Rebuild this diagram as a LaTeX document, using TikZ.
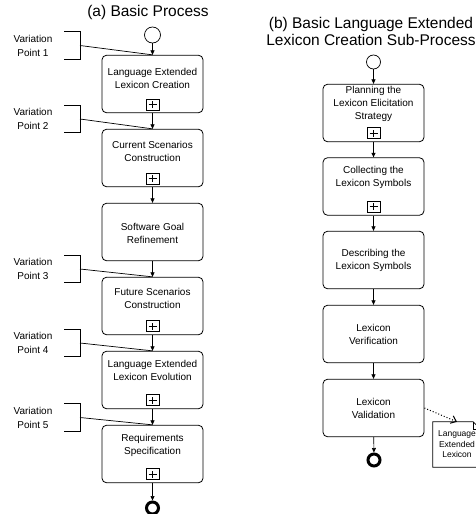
\documentclass[tikz,border=0pt]{standalone}
\usepackage{fontspec}
\setmainfont{Liberation Sans}
\usetikzlibrary{arrows.meta}
\begin{document}
\begin{tikzpicture}[x=1pt,y=-1pt,
  task/.style={draw, rounded corners=4.5pt, line width=0.8pt, minimum width=101pt, minimum height=57.5pt, inner sep=0pt},
  ttext/.style={align=center, font=\fontsize{10}{13}\selectfont, inner sep=0pt},
  vptext/.style={align=center, font=\fontsize{10}{14}\selectfont, inner sep=0pt},
  titletext/.style={align=center, font=\fontsize{15.5}{17}\selectfont, inner sep=0pt},
  plusbox/.style={draw, line width=0.8pt, minimum width=13pt, minimum height=11pt, inner sep=0pt,
    path picture={
      \draw[line width=0.9pt] ([xshift=-4pt]path picture bounding box.center) -- ([xshift=4pt]path picture bounding box.center);
      \draw[line width=0.9pt] ([yshift=-3.5pt]path picture bounding box.center) -- ([yshift=3.5pt]path picture bounding box.center);}},
  flow/.style={-{Triangle[length=4.5pt,width=4pt]}, line width=0.7pt},
  startev/.style={draw, circle, line width=0.7pt, inner sep=0pt},
  endev/.style={draw, circle, line width=3pt, minimum size=12pt, inner sep=0pt},
  bracket/.style={line width=0.7pt},
  annot/.style={line width=0.7pt},
  dataobj/.style={inner sep=0pt, minimum width=48pt, minimum height=45pt, align=center, font=\fontsize{8.5}{10.5}\selectfont},
]
\useasboundingbox (0,0) rectangle (476,514);
\clip (0,0) rectangle (476,514);

% ---------- (a) Basic Process ----------
\node[titletext] (ta) at (148,12) {(a) Basic Process};

\node[startev, minimum size=16pt] (sa) at (152.5,35) {};

\node[task] (A1) at (152.5,84) {};
\node[task] (A2) at (152.5,158) {};
\node[task] (A3) at (152.5,232) {};
\node[task] (A4) at (152.5,306) {};
\node[task] (A5) at (152.5,380) {};
\node[task] (A6) at (152.5,454) {};

\node[ttext] (A1t) at (152.5,78) {Language Extended\\Lexicon Creation};
\node[ttext] (A2t) at (152.5,151) {Current Scenarios\\Construction};
\node[ttext] (A3t) at (152.5,233) {Software Goal\\Refinement};
\node[ttext] (A4t) at (152.5,298.5) {Future Scenarios\\Construction};
\node[ttext] (A5t) at (152.5,370.5) {Language Extended\\Lexicon Evolution};
\node[ttext] (A6t) at (152.5,445.5) {Requirements\\Specification};

\node[plusbox] (A1p) at (152.5,104.5) {};
\node[plusbox] (A2p) at (152.5,178.5) {};
\node[plusbox] (A4p) at (152.5,326) {};
\node[plusbox] (A5p) at (152.5,400) {};
\node[plusbox] (A6p) at (152.5,474) {};

\node[endev] (ea) at (152.5,508) {};

\draw[flow] (sa) -- (A1);
\draw[flow] (A1) -- (A2);
\draw[flow] (A2) -- (A3);
\draw[flow] (A3) -- (A4);
\draw[flow] (A4) -- (A5);
\draw[flow] (A5) -- (A6);
\draw[flow] (A6) -- (ea);

% variation points
\foreach \i/\y/\t in {1/45.5/A1, 2/119/A2, 3/269/A4, 4/343/A5, 5/417.5/A6}{
  \node[vptext] (vp\i) at (33,\y) {Variation\\Point \i};
  \coordinate (vb\i) at (80,\y);
  \draw[bracket] (64,\y-13.75) -- (80,\y-13.75) -- (80,\y+13.75) -- (64,\y+13.75);
  \draw[annot] (vb\i) -- (\t.north);
}

% ---------- (b) Sub-process ----------
\node[titletext] (tb) at (371,31) {(b) Basic Language Extended\\Lexicon Creation Sub-Process};

\node[startev, minimum size=14pt] (sb) at (373.5,62) {};

\node[task] (B1) at (373.5,113) {};
\node[task] (B2) at (373.5,186.5) {};
\node[task] (B3) at (373.5,260) {};
\node[task] (B4) at (373.5,334) {};
\node[task] (B5) at (373.5,408) {};

\node[ttext] (B1t) at (373.5,104) {Planning the\\Lexicon Elicitation\\Strategy};
\node[ttext] (B2t) at (373.5,177.5) {Collecting the\\Lexicon Symbols};
\node[ttext] (B3t) at (373.5,260.5) {Describing the\\Lexicon Symbols};
\node[ttext] (B4t) at (373.5,334) {Lexicon\\Verification};
\node[ttext] (B5t) at (373.5,408.5) {Lexicon\\Validation};

\node[plusbox] (B1p) at (373.5,133) {};
\node[plusbox] (B2p) at (373.5,206.5) {};

\node[endev] (eb) at (374,460) {};

\draw[flow] (sb) -- (B1);
\draw[flow] (B1) -- (B2);
\draw[flow] (B2) -- (B3);
\draw[flow] (B3) -- (B4);
\draw[flow] (B4) -- (B5);
\draw[flow] (B5) -- (eb);

% data object
\node[dataobj] (data) at (457,444.5) {Language\\Extended\\Lexicon};
\draw[line width=0.8pt] (data.north west) -- ([xshift=-8pt]data.north east) -- ([yshift=-8pt]data.north east) -- (data.south east) -- (data.south west) -- cycle;
\draw[line width=0.8pt] ([xshift=-8pt]data.north east) -- ([xshift=-8pt,yshift=-8pt]data.north east) -- ([yshift=-8pt]data.north east);

\draw[dotted, line width=1pt, -{Straight Barb[length=5pt,width=8pt]}] (B5.east) -- (data.north);
\end{tikzpicture}
\end{document}
